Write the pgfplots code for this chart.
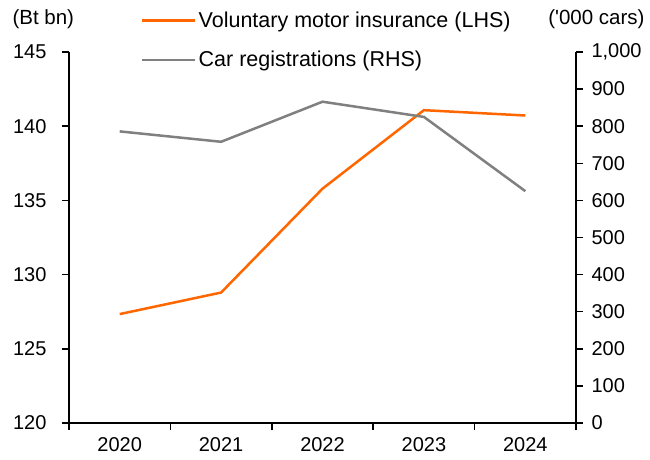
\documentclass[border=0pt]{standalone}
\usepackage{pgfplots}
\pgfplotsset{compat=1.18}
\usepackage{fontspec}
\setmainfont{Liberation Sans}
\definecolor{vmi}{RGB}{255,102,0}
\definecolor{reg}{RGB}{128,128,128}
\begin{document}
\begin{tikzpicture}[font=\fontsize{20bp}{24bp}\selectfont]
\pgfplotsset{
  base/.style={
    width=507bp, height=371bp, scale only axis,
    xmin=-0.5, xmax=4.5,
    tick align=outside,
    major tick length=7bp, minor tick length=7bp,
    every tick/.style={black, line width=1.5bp},
    axis line style={black, line width=1.5bp, -},
    /pgf/number format/assume math mode=true,
    tick label style={font=\fontsize{20bp}{24bp}\selectfont},
    clip=false,
  }
}
\begin{axis}[base,
  axis x line*=bottom, axis y line*=left,
  xtick pos=bottom, ytick pos=left,
  ymin=120, ymax=145, ytick={120,125,...,145},
  xtick={0,1,2,3,4}, xticklabels={2020,2021,2022,2023,2024},
  minor xtick={-0.5,0.5,1.5,2.5,3.5,4.5},
  major x tick style={draw=none},
  yticklabel style={xshift=-12bp},
  xticklabel style={yshift=-4bp},
]
\addplot[vmi, line width=2.5bp] coordinates {(0,127.34) (1,128.79) (2,135.79) (3,141.08) (4,140.72)};
\node[anchor=west, xshift=-60bp, yshift=33bp, font=\fontsize{20.5bp}{24bp}\selectfont] at (rel axis cs:0,1) {(Bt bn)};
\node[anchor=east, xshift=72bp, yshift=33bp, font=\fontsize{20.5bp}{24bp}\selectfont] at (rel axis cs:1,1) {(\textquotesingle000 cars)};
\coordinate (bl) at (rel axis cs:0,0);
\coordinate (tr) at (rel axis cs:1,1);
\end{axis}
\begin{axis}[base,
  axis x line=none, axis y line*=right,
  ytick pos=right,
  xtick=\empty,
  ymin=0, ymax=1000, ytick={0,100,...,1000},
  yticklabel style={xshift=5bp, /pgf/number format/1000 sep={,}},
  legend style={at={(rel axis cs:0,1)}, anchor=north west, xshift=72bp, yshift=42bp,
    draw=none, fill=none, inner sep=0pt, row sep=18bp, nodes={inner sep=2bp},
    font=\fontsize{21.5bp}{25bp}\selectfont},
  legend cell align=left,
  legend image code/.code={\draw[#1] (0bp,0bp) -- (53bp,0bp);},
]
\addlegendimage{vmi, line width=2.5bp}
\addlegendentry{Voluntary motor insurance (LHS)}
\addplot[reg, line width=2.5bp] coordinates {(0,786) (1,758) (2,866) (3,825) (4,625)};
\addlegendentry{Car registrations (RHS)}
\end{axis}
\pgfresetboundingbox
\path[use as bounding box] ([shift={(-69bp,-36bp)}]bl) rectangle ([shift={(74bp,52bp)}]tr);
\end{tikzpicture}
\end{document}
